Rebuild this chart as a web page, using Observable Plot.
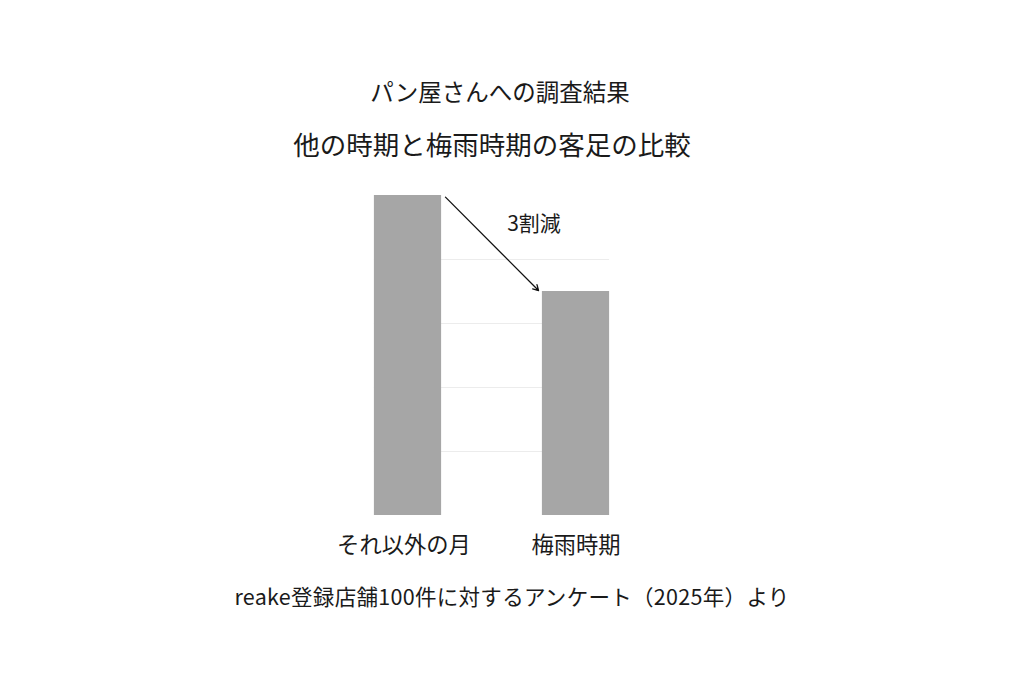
<!DOCTYPE html>
<html><head><meta charset="utf-8">
<script src="https://cdn.jsdelivr.net/npm/d3@7"></script>
<script src="https://cdn.jsdelivr.net/npm/@observablehq/plot@0.6"></script>
<style>
html,body{margin:0;padding:0;background:#fff;}
body{width:1024px;height:683px;position:relative;overflow:hidden;font-family:"Noto Sans CJK JP","Noto Sans",sans-serif;color:#1a1a1a;}
.t{position:absolute;left:0;width:1024px;text-align:center;white-space:nowrap;}
#t1{top:75px;left:-12px;font-size:23.5px;line-height:32px;}
#t2{top:126px;left:-20px;font-size:26.5px;line-height:36px;}
#cap{top:581px;font-size:21.5px;line-height:30px;letter-spacing:0.3px;}
#chart{position:absolute;left:0;top:175px;}
</style></head>
<body>
<div class="t" id="t1">パン屋さんへの調査結果</div>
<div class="t" id="t2">他の時期と梅雨時期の客足の比較</div>
<div id="chart"></div>
<div class="t" id="cap">reake登録店舗100件に対するアンケート（2025年）より</div>
<script>
const categories = ["それ以外の月", "梅雨時期"];
const values = [100, 70];
const gridTicks = [20, 40, 60, 80];
const annotationLabel = "3割減";

const half = 0.2;
const data = categories.map((c, i) => ({i, c, v: values[i]}));

const plot = Plot.plot({
  width: 1024,
  height: 395,
  marginTop: 20,
  marginBottom: 55,
  marginLeft: 239.5,
  marginRight: 280.5,
  x: {domain: [-1, 2], axis: null},
  y: {domain: [0, 100], axis: null},
  style: {fontFamily: '"Noto Sans CJK JP", sans-serif', color: "#1a1a1a", background: "transparent"},
  marks: [
    Plot.ruleY(gridTicks, {x1: -half, x2: 1 + half, stroke: "#ececec", strokeWidth: 1}),
    Plot.rectY(data, {x1: d => d.i - half, x2: d => d.i + half, y1: 0, y2: "v", fill: "#a6a6a6"}),
    Plot.text(data.slice(0, 1), {x: "i", y: 0, text: "c", dy: 30, dx: -4, fontSize: 22.3, fill: "#1a1a1a"}),
    Plot.text(data.slice(1), {x: "i", y: 0, text: "c", dy: 30, fontSize: 22.3, fill: "#1a1a1a"}),
    Plot.arrow([{x1: 0 + half + 0.023, y1: values[0] - 0.5, x2: 1 - half - 0.023, y2: values[1] + 0.3}], {
      x1: "x1", y1: "y1", x2: "x2", y2: "y2", stroke: "#111", strokeWidth: 1.3, headLength: 7, bend: false
    }),
    Plot.text([annotationLabel], {x: 0.75, y: 91, text: d => d, fontSize: 21, fill: "#1a1a1a"})
  ]
});
document.getElementById("chart").appendChild(plot);
</script>
</body></html>
